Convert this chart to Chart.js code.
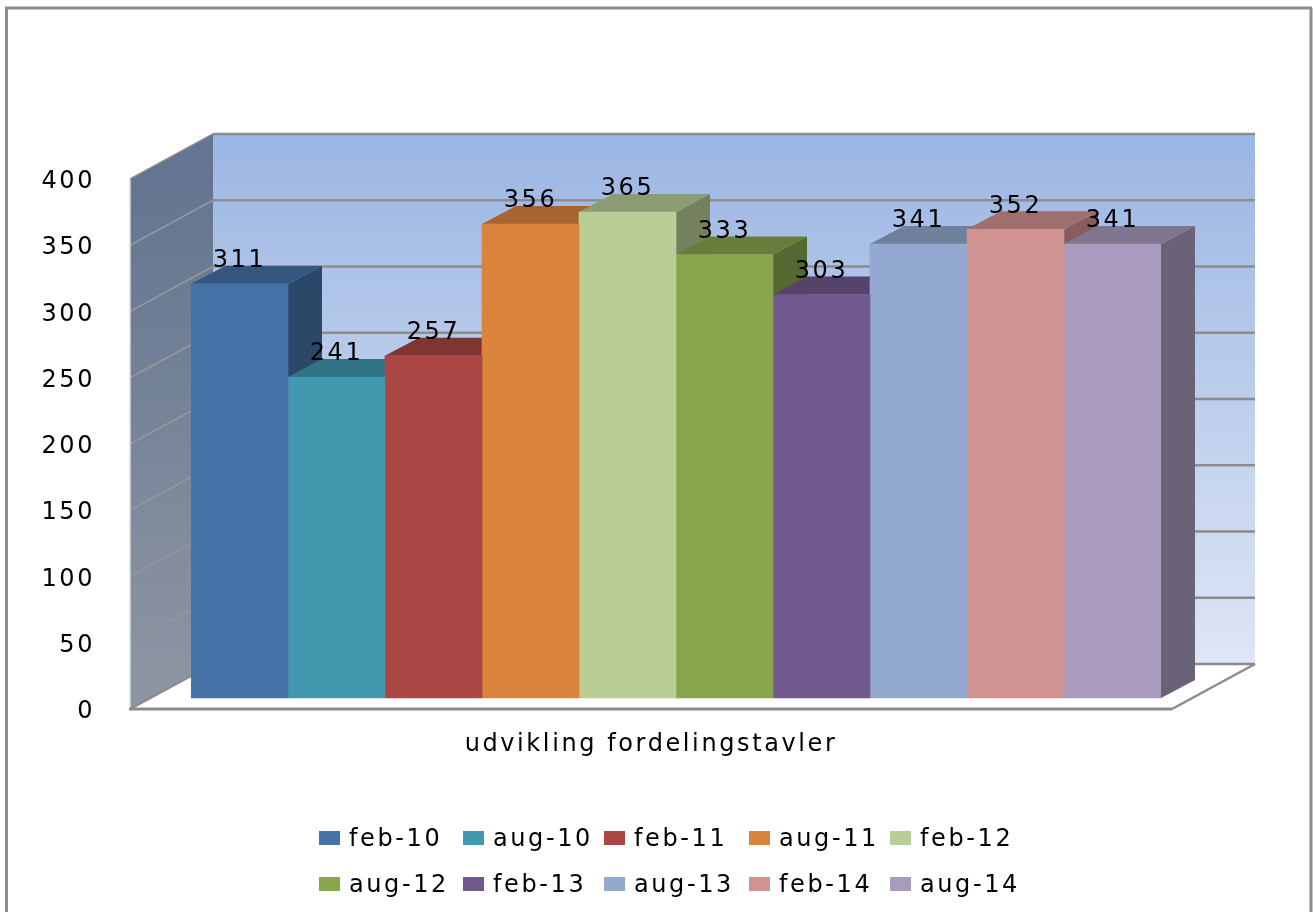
<!DOCTYPE html>
<html>
<head>
<meta charset="utf-8">
<style>
  html, body { margin: 0; padding: 0; background: #fff; }
  canvas { display: block; }
</style>
<script src="https://cdn.jsdelivr.net/npm/chart.js@4/dist/chart.umd.js"></script>
</head>
<body>
<canvas id="myChart" width="1314" height="912"></canvas>
<script>
var categories = ['udvikling fordelingstavler'];
var periods = ['feb-10', 'aug-10', 'feb-11', 'aug-11', 'feb-12', 'aug-12', 'feb-13', 'aug-13', 'feb-14', 'aug-14'];
var values = [311, 241, 257, 356, 365, 333, 303, 341, 352, 341];
var colors = ['#4572A7', '#4198AF', '#AA4643', '#DB843D', '#B9CD96', '#89A54E', '#71588F', '#93A9CF', '#D19392', '#A99BBD'];
var tickStep = 50;
var tickTop = 400;

var fontName = '"DejaVu Sans", sans-serif';
var spacing = '2.6px';
var wallDepth = { x: 83, y: -45 };
var barDepth = { x: 34, y: -18 };
var wallLeft = 130;
var wallRight = 1172;
var labelDrop = 3; // tick text sits a bit under its wall line
var legendCols = [319, 463, 604, 749, 890];
var legendRows = [838, 884];

function poly(ctx, pts, fill) {
    ctx.beginPath();
    ctx.moveTo(pts[0][0], pts[0][1]);
    for (var i = 1; i < pts.length; i++) ctx.lineTo(pts[i][0], pts[i][1]);
    ctx.closePath();
    ctx.fillStyle = fill;
    ctx.fill();
}

function line(ctx, x1, y1, x2, y2, color, width) {
    ctx.beginPath();
    ctx.moveTo(x1, y1);
    ctx.lineTo(x2, y2);
    ctx.strokeStyle = color;
    ctx.lineWidth = width;
    ctx.stroke();
}

// walls, floor, the depth faces of the bars, value labels and the legend grid
var box3d = {
    id: 'box3d',
    beforeUpdate: function (chart) {
        chart.ctx.letterSpacing = spacing;
    },
    beforeDraw: function (chart) {
        var ctx = chart.ctx;
        ctx.letterSpacing = spacing;
        ctx.save();
        line(ctx, 6.5, 912, 6.5, 8, '#8c8c8c', 3);
        line(ctx, 5, 8, 1312, 8, '#8c8c8c', 3);
        line(ctx, 1311, 8, 1311, 912, '#8c8c8c', 3);
        ctx.restore();
    },
    beforeDatasetsDraw: function (chart) {
        var ctx = chart.ctx;
        var scale = chart.scales.yTicks;
        var y0 = scale.getPixelForValue(0) - labelDrop;
        var yTop = scale.getPixelForValue(tickTop) - labelDrop;
        var backL = wallLeft + wallDepth.x;
        var backR = wallRight + wallDepth.x;
        ctx.save();

        var back = ctx.createLinearGradient(0, yTop + wallDepth.y, 0, y0 + wallDepth.y);
        back.addColorStop(0, '#9BB6E3');
        back.addColorStop(1, '#DFE6F5');
        poly(ctx, [[backL, yTop + wallDepth.y], [backR, yTop + wallDepth.y], [backR, y0 + wallDepth.y], [backL, y0 + wallDepth.y]], back);

        var side = ctx.createLinearGradient(0, yTop, 0, y0);
        side.addColorStop(0, '#637590');
        side.addColorStop(1, '#8F96A3');
        poly(ctx, [[wallLeft, yTop], [backL, yTop + wallDepth.y], [backL, y0 + wallDepth.y], [wallLeft, y0]], side);

        for (var v = 0; v <= tickTop; v += tickStep) {
            var y = scale.getPixelForValue(v) - labelDrop;
            line(ctx, backL, y + wallDepth.y, backR, y + wallDepth.y, '#8c8c8c', 2.5);
            line(ctx, wallLeft, y, backL, y + wallDepth.y, v == tickTop ? '#8c8c8c' : '#95979b', 1.5);
        }
        line(ctx, wallLeft, yTop, wallLeft, y0, '#d9dce4', 1.5);

        // floor edge
        line(ctx, wallLeft - 1, y0, wallRight, y0, '#8c8c8c', 3);
        line(ctx, wallRight, y0, backR, y0 + wallDepth.y, '#8c8c8c', 2.5);
        line(ctx, wallLeft, y0, backL, y0 + wallDepth.y, '#8c8c8c', 2);

        for (var i = 0; i < values.length; i++) {
            var bar = chart.getDatasetMeta(i).data[0];
            var l = bar.x - bar.width / 2;
            var r = bar.x + bar.width / 2;
            var t = bar.y;
            var b = bar.base;
            // side face
            poly(ctx, [[r, t], [r + barDepth.x, t + barDepth.y], [r + barDepth.x, b + barDepth.y], [r, b]], colors[i]);
            poly(ctx, [[r, t], [r + barDepth.x, t + barDepth.y], [r + barDepth.x, b + barDepth.y], [r, b]], 'rgba(0,0,0,0.37)');
            // top face
            poly(ctx, [[l, t], [r, t], [r + barDepth.x, t + barDepth.y], [l + barDepth.x, t + barDepth.y]], colors[i]);
            poly(ctx, [[l, t], [r, t], [r + barDepth.x, t + barDepth.y], [l + barDepth.x, t + barDepth.y]], 'rgba(0,0,0,0.24)');
        }
        ctx.restore();
    },
    afterDatasetsDraw: function (chart) {
        var ctx = chart.ctx;
        var i;
        ctx.save();
        ctx.font = '24px ' + fontName;
        ctx.fillStyle = '#000';
        ctx.textAlign = 'center';
        ctx.textBaseline = 'middle';
        for (i = 0; i < values.length; i++) {
            var bar = chart.getDatasetMeta(i).data[0];
            ctx.fillText(String(values[i]), bar.x, bar.y - 23);
        }

        // legend keeps its five columns, which the built-in one can't do
        ctx.textAlign = 'left';
        ctx.textBaseline = 'alphabetic';
        for (i = 0; i < periods.length; i++) {
            var x = legendCols[i % legendCols.length];
            var y = legendRows[Math.floor(i / legendCols.length)];
            ctx.fillStyle = colors[i];
            ctx.fillRect(x, y - 7, 21, 14);
            ctx.fillStyle = '#000';
            ctx.fillText(periods[i], x + 30, y + 8);
        }
        ctx.restore();
    }
};

var datasets = [];
for (var i = 0; i < periods.length; i++) {
    datasets.push({
        label: periods[i],
        data: [values[i]],
        backgroundColor: colors[i],
        borderWidth: 0,
        barPercentage: 1,
        categoryPercentage: 1
    });
}

var ctx = document.getElementById('myChart').getContext('2d');
var myChart = new Chart(ctx, {
    type: 'bar',
    data: {
        labels: categories,
        datasets: datasets
    },
    plugins: [box3d],
    options: {
        responsive: false,
        animation: false,
        layout: { padding: { left: 0, right: 153, top: 165.4, bottom: 0 } },
        plugins: {
            tooltip: { enabled: false },
            legend: { display: false }
        },
        scales: {
            x: {
                afterFit: function (scale) { scale.height = 200; },
                grid: { display: false },
                border: { display: false },
                ticks: {
                    color: '#000',
                    padding: 10,
                    labelOffset: -25,
                    maxRotation: 0,
                    font: { family: fontName, size: 24 }
                }
            },
            y: {
                display: false,
                min: -10.5,
                max: 400
            },
            yTicks: {
                position: 'left',
                min: 0,
                max: 412.5,
                afterFit: function (scale) { scale.width = 191; },
                grid: { display: false },
                border: { display: false },
                ticks: {
                    stepSize: tickStep,
                    includeBounds: false,
                    color: '#000',
                    padding: 88,
                    font: { family: fontName, size: 24 }
                }
            }
        }
    }
});
</script>
</body>
</html>
